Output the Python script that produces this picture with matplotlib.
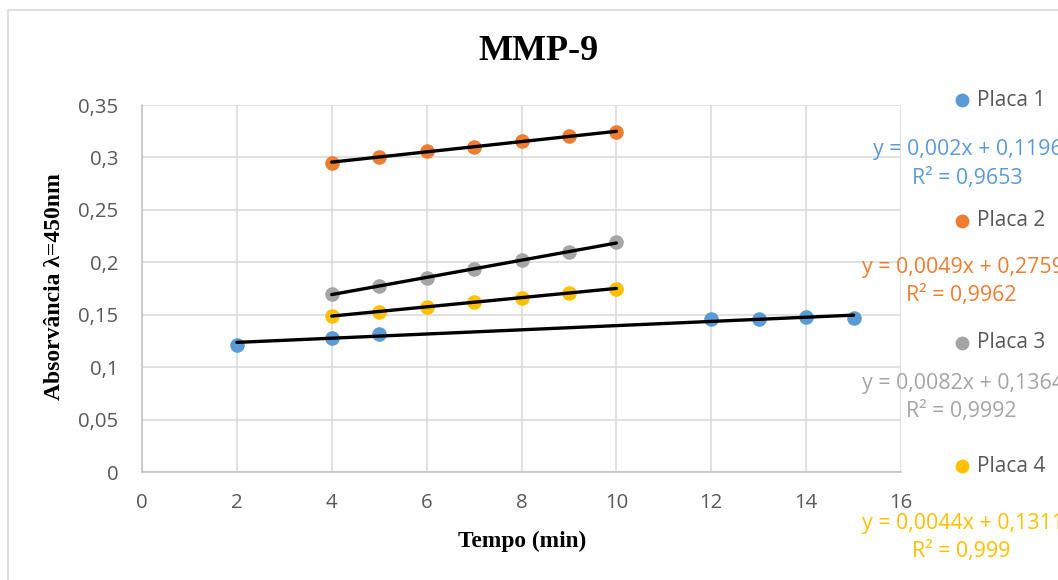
import matplotlib
matplotlib.use("Agg")
import matplotlib.pyplot as plt
from matplotlib.patches import Rectangle
import numpy as np

# ---- data ----
series_names = ["Placa 1", "Placa 2", "Placa 3", "Placa 4"]
x_p1 = [2, 4, 5, 12, 13, 14, 15]
y_p1 = [0.121, 0.128, 0.132, 0.146, 0.146, 0.148, 0.147]
x_p2 = [4, 5, 6, 7, 8, 9, 10]
y_p2 = [0.295, 0.300, 0.306, 0.310, 0.316, 0.320, 0.324]
x_p3 = [4, 5, 6, 7, 8, 9, 10]
y_p3 = [0.170, 0.177, 0.185, 0.194, 0.202, 0.210, 0.219]
x_p4 = [4, 5, 6, 7, 8, 9, 10]
y_p4 = [0.149, 0.153, 0.157, 0.162, 0.166, 0.171, 0.175]
slopes = [0.002, 0.0049, 0.0082, 0.0044]
intercepts = [0.1196, 0.2759, 0.1364, 0.1311]
eq_labels = ["y = 0,002x + 0,1196", "y = 0,0049x + 0,2759",
             "y = 0,0082x + 0,1364", "y = 0,0044x + 0,1311"]
r2_labels = ["R² = 0,9653", "R² = 0,9962", "R² = 0,9992", "R² = 0,999"]
x_ticks = [0, 2, 4, 6, 8, 10, 12, 14, 16]
y_ticks = [0, 0.05, 0.1, 0.15, 0.2, 0.25, 0.3, 0.35]
y_tick_labels = ["0", "0,05", "0,1", "0,15", "0,2", "0,25", "0,3", "0,35"]
colors = ["#5B9BD5", "#ED7D31", "#A5A5A5", "#FFC000"]

xs = [x_p1, x_p2, x_p3, x_p4]
ys = [y_p1, y_p2, y_p3, y_p4]

W, H = 1058, 580
fig = plt.figure(figsize=(W / 100, H / 100), dpi=100)
fig.patch.set_facecolor("white")

# outer chart border
fig.patches.append(Rectangle((8 / W, -0.1), 1.2, (H - 10) / H + 0.1,
                             transform=fig.transFigure, fill=False,
                             edgecolor="#D9D9D9", lw=1.2))

L, R, T, B = 142, 901, 105, 472
ax = fig.add_axes([L / W, 1 - B / H, (R - L) / W, (B - T) / H])
ax.set_xlim(0, 16)
ax.set_ylim(0, 0.35)
ax.set_xticks(x_ticks)
ax.set_xticklabels([str(t) for t in x_ticks])
ax.set_yticks(y_ticks)
ax.set_yticklabels(y_tick_labels)
ax.grid(True, color="#D9D9D9", lw=1.1)
ax.set_axisbelow(True)
for s in ["top", "right"]:
    ax.spines[s].set_visible(False)
for s in ["left", "bottom"]:
    ax.spines[s].set_color("#BFBFBF")
    ax.spines[s].set_linewidth(1.1)
ax.tick_params(length=0, labelcolor="#595959", labelsize=14.7)
ax.tick_params(axis="y", pad=17)
ax.tick_params(axis="x", pad=15)
for lab in ax.get_xticklabels() + ax.get_yticklabels():
    lab.set_fontfamily("Open Sans")

for i in range(4):
    ax.plot(xs[i], ys[i], "o", color=colors[i], ms=10.5, mec="none",
            zorder=3, clip_on=False)
    xl = np.array([min(xs[i]), max(xs[i])])
    ax.plot(xl, slopes[i] * xl + intercepts[i], color="black", lw=2.4,
            zorder=4, solid_capstyle="round")

fig.text(538 / W, 1 - 52 / H, "MMP-9", family="Liberation Serif",
         weight="bold", fontsize=26, ha="center", va="center")
fig.text(522 / W, 1 - 541 / H, "Tempo (min)", family="Liberation Serif",
         weight="bold", fontsize=16.8, ha="center", va="center")
fig.text(55 / W, 1 - 287 / H, "Absorvância λ=450nm", family="Liberation Serif",
         weight="bold", fontsize=17, ha="center", va="center", rotation=90)

# legend / equations
leg_y = [100, 221, 343, 466]
eq_y = [150, 268, 383, 523]
eq_x = [873, 862, 862, 862]
r2_y = [178, 296, 411, 551]
r2_x = [912, 906, 906, 912]
for i in range(4):
    fig.lines.append(plt.Line2D([962 / W], [1 - leg_y[i] / H], marker="o",
                                color=colors[i], ms=10, mec="none",
                                transform=fig.transFigure))
    fig.text(977 / W, 1 - leg_y[i] / H, series_names[i], family="Open Sans",
             fontsize=15, color="#595959", ha="left", va="center")
    fig.text(eq_x[i] / W, 1 - eq_y[i] / H, eq_labels[i], family="Open Sans",
             fontsize=15.4, color=colors[i], ha="left", va="center")
    fig.text(r2_x[i] / W, 1 - r2_y[i] / H, r2_labels[i], family="Open Sans",
             fontsize=15.4, color=colors[i], ha="left", va="center")

fig.savefig("out.png", dpi=100)
